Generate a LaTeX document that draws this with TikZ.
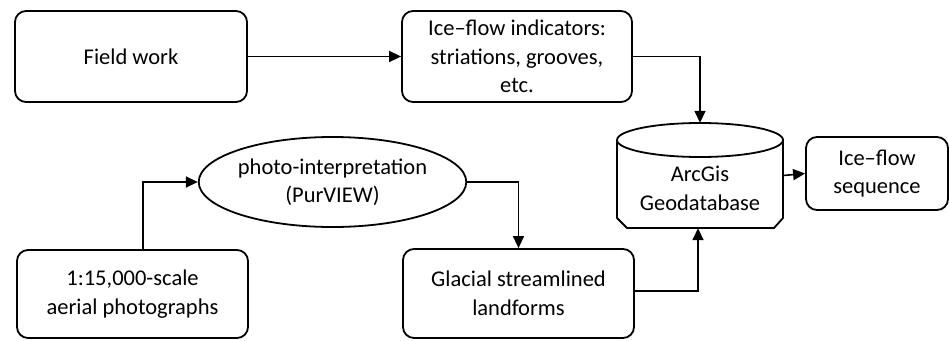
\documentclass[tikz,border=0pt]{standalone}
\usepackage{fontspec}
\setmainfont{Carlito}
\usetikzlibrary{arrows.meta,shapes.geometric}
\begin{document}
\begin{tikzpicture}[x=1pt,y=-1pt,
  every node/.style={font=\fontsize{22.5}{28.5}\selectfont, align=center, inner sep=0pt},
  box/.style={draw, line width=1.8pt, rounded corners=11pt},
  conn/.style={line width=1.6pt, -{Triangle[length=12pt,width=11pt]}}]
\useasboundingbox (0,0) rectangle (949,340);
\node[box, minimum width=232pt, minimum height=91pt] (field) at (131,56.5) {Field work};
\node[box, minimum width=230pt, minimum height=91pt] (ice) at (517,56.5) {Ice--flow indicators:\\striations, grooves,\\etc.};
\node[box, minimum width=231pt, minimum height=88pt] (aer) at (132.5,294) {1:15,000-scale\\aerial photographs};
\node[box, minimum width=231pt, minimum height=89pt] (gl) at (518.5,293.5) {Glacial streamlined\\landforms};
\node[box, minimum width=142pt, minimum height=73pt] (seq) at (877,173.5) {Ice--flow\\sequence};
\node[draw, ellipse, line width=1.8pt, minimum width=263pt, minimum height=90pt] (ell) at (332.5,182) {photo-interpretation\\(PurVIEW)};
% database cylinder
\node[minimum width=166pt, minimum height=105pt] (db) at (700,175.5) {};
\draw[line width=1.8pt, line join=round]
  (617,140) -- (617,218) -- (627,228) -- (774,228) -- (783,218) -- (783,140);
\draw[line width=1.8pt] (700,140) ellipse [x radius=83, y radius=17];
\node (dbtext) at (700,188.5) {ArcGis\\Geodatabase};
% connectors
\draw[conn] (field.east) -- (ice.west);
\draw[conn] (ice.east) -| (db.north);
\draw[conn] ([xshift=10.5pt]aer.north) |- (ell.west);
\draw[conn] (ell.east) -| (gl.north);
\draw[conn] ([yshift=2.5pt]gl.east) -| ([xshift=-2pt]db.south);
\draw[conn] (db.east) -- (seq.west);
\end{tikzpicture}
\end{document}
